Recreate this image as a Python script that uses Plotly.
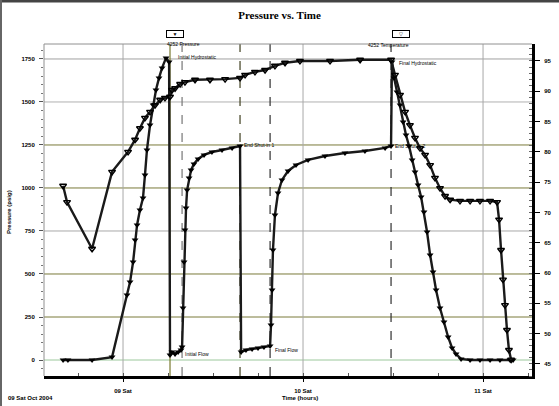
import plotly.graph_objects as go

# ---------------- data (time in hours, Saturday 9 Oct 2004) ----------------
p_time = [8.667, 8.694, 8.828, 8.939, 9.022, 9.039, 9.056, 9.067, 9.078, 9.094, 9.111,
          9.122, 9.133, 9.150, 9.167, 9.183, 9.200, 9.217, 9.239, 9.256,
          9.261, 9.272, 9.289, 9.306, 9.322,
          9.328, 9.333, 9.339, 9.344, 9.350, 9.356, 9.367, 9.378, 9.394, 9.417, 9.450,
          9.494, 9.550, 9.606, 9.650,
          9.656, 9.683, 9.717, 9.750, 9.783, 9.817,
          9.822, 9.828, 9.833, 9.844, 9.861, 9.883, 9.917, 9.961, 10.028, 10.122,
          10.233, 10.344, 10.456, 10.489,
          10.494, 10.506, 10.522, 10.539, 10.556, 10.572, 10.589, 10.606, 10.622,
          10.639, 10.656, 10.672, 10.689, 10.706, 10.722, 10.739, 10.761, 10.783,
          10.806, 10.828, 10.850, 10.878, 10.928, 10.983, 11.039, 11.094, 11.150, 11.167]
pressure = [0, 0, 0, 17, 378, 453, 570, 698, 785, 872, 942,
            1076, 1221, 1366, 1483, 1570, 1640, 1698, 1756, 1733,
            29, 47, 35, 47, 58,
            76, 302, 570, 756, 884, 988, 1058, 1105, 1140, 1169, 1192,
            1209, 1221, 1233, 1244,
            47, 58, 64, 70, 76, 81,
            203, 407, 640, 843, 971, 1047, 1099, 1134, 1163, 1186,
            1203, 1215, 1233, 1244,
            1733, 1640, 1558, 1483, 1384, 1308, 1244, 1163, 1093,
            1017, 948, 860, 744, 610, 512, 407, 302, 221,
            134, 70, 35, 6, 0, 0, 0, 0, 0, 0]

t_time = [8.667, 8.689, 8.828, 8.939, 9.028, 9.067, 9.094, 9.122, 9.150, 9.178, 9.206,
          9.233, 9.261, 9.272, 9.289, 9.317, 9.344, 9.400, 9.483, 9.567, 9.650,
          9.678, 9.733, 9.789, 9.844, 9.900, 9.983, 10.150, 10.317, 10.489,
          10.511, 10.539, 10.567, 10.594, 10.622, 10.650, 10.678, 10.706, 10.733,
          10.761, 10.789, 10.817, 10.872, 10.928, 10.983, 11.039, 11.078,
          11.089, 11.100, 11.111, 11.122, 11.133, 11.144, 11.156]
temperature = [74.4, 71.7, 64.0, 76.7, 80.0, 82.0, 83.9, 85.6, 86.6, 87.7, 88.6,
               88.9, 89.1, 90.2, 90.5, 91.2, 91.5, 91.9, 91.9, 92.0, 92.2,
               92.7, 93.2, 93.5, 94.2, 94.7, 95.0, 95.0, 95.2, 95.2,
               92.7, 89.4, 86.6, 84.4, 82.3, 80.6, 79.5, 77.8, 75.7,
               74.0, 72.7, 72.1, 71.9, 71.9, 71.9, 71.9, 71.7,
               68.8, 63.8, 58.9, 54.7, 50.6, 47.3, 45.7]

x_ticks = [9, 10, 11]
x_tick_labels = ["09 Sat", "10 Sat", "11 Sat"]
p_ticks = [0, 250, 500, 750, 1000, 1250, 1500, 1750]
t_ticks = [45, 50, 55, 60, 65, 70, 75, 80, 85, 90, 95]

events = [9.261, 9.328, 9.650, 9.817, 10.489]
event_styles = [("#7a7a30", "solid"), ("#777777", "dash"), ("#404020", "dash"),
                ("#303030", "dash"), ("#303030", "dash")]

grid_colors = {0: "#9cc89c", 250: "#7a7a3a", 500: "#7a7a3a", 750: "#a8a8a8",
               1000: "#7a7a3a", 1250: "#7a7a3a", 1500: "#b0b0b0", 1750: "#a0a0a0"}

labels = [(9.294, 1762, "Initial Hydrostatic"), (9.661, 1252, "End Shut-in 1"),
          (9.335, 35, "Initial Flow"), (9.835, 60, "Final Flow"),
          (10.52, 1727, "Final Hydrostatic"), (10.50, 1244, "End Shut-in 2")]

FONT = "Liberation Sans"

# plot area in pixels: x 44..532, y 44..376
L, R, T, B = 44, 532, 44, 376
def px(x):
    return (x - L) / (R - L)
def py(y):
    return (B - y) / (B - T)

fig = go.Figure()
fig.add_trace(go.Scatter(
    x=p_time, y=pressure, name="4252 Pressure", mode="lines+markers",
    line=dict(color="#1a1a1a", width=2.4),
    marker=dict(symbol="triangle-down", size=6, color="black"),
    yaxis="y"))
fig.add_trace(go.Scatter(
    x=t_time, y=temperature, name="4252 Temperature", mode="lines+markers",
    line=dict(color="#1a1a1a", width=2.4),
    marker=dict(symbol="triangle-down-open", size=6, color="black",
                line=dict(width=1.4)),
    yaxis="y2"))

shapes = []
for v, c in grid_colors.items():
    shapes.append(dict(type="line", xref="paper", yref="y", x0=0, x1=1, y0=v, y1=v,
                       line=dict(color=c, width=1), layer="below"))
for xv in x_ticks:
    shapes.append(dict(type="line", xref="x", yref="paper", x0=xv, x1=xv, y0=0, y1=1,
                       line=dict(color="#a8a8a8", width=1), layer="below"))
for xv, (c, d) in zip(events, event_styles):
    shapes.append(dict(type="line", xref="x", yref="paper", x0=xv, x1=xv, y0=0, y1=1,
                       line=dict(color=c, width=1.2, dash=d), layer="below"))
shapes.append(dict(type="line", xref="paper", yref="paper", x0=0, x1=1, y0=1, y1=1,
                   line=dict(color="#909090", width=1)))
shapes.append(dict(type="line", xref="paper", yref="paper", x0=0, x1=0, y0=0, y1=1,
                   line=dict(color="#909090", width=1)))
# picture frame (top and left edges)
shapes.append(dict(type="line", xref="paper", yref="paper", x0=px(0), x1=px(559),
                   y0=py(1), y1=py(1), line=dict(color="#444444", width=3)))
shapes.append(dict(type="line", xref="paper", yref="paper", x0=px(1), x1=px(1),
                   y0=py(0), y1=py(406), line=dict(color="#666666", width=2)))

annotations = []
for xv, yv, txt in labels:
    annotations.append(dict(x=xv, y=yv, xref="x", yref="y", text=txt, showarrow=False,
                            xanchor="left", yanchor="middle",
                            font=dict(family=FONT, size=5, color="black")))
annotations += [
    dict(x=px(166), y=py(30), xref="paper", yref="paper", text="▼", showarrow=False,
         font=dict(size=5, color="black"), bordercolor="black", borderwidth=1,
         borderpad=0, width=16, height=6),
    dict(x=px(165), y=py(39), xref="paper", yref="paper", text="4252 Pressure",
         showarrow=False, font=dict(family=FONT, size=5, color="black")),
    dict(x=px(410), y=py(30), xref="paper", yref="paper", text="▽", showarrow=False,
         font=dict(size=5, color="black"), bordercolor="black", borderwidth=1,
         borderpad=0, width=16, height=6),
    dict(x=px(411), y=py(40), xref="paper", yref="paper", text="4252 Temperature",
         showarrow=False, font=dict(family=FONT, size=5, color="black")),
    dict(x=px(6), y=py(398), xref="paper", yref="paper", xanchor="left",
         yanchor="middle", text="<b>09 Sat Oct 2004</b>", showarrow=False,
         font=dict(family=FONT, size=6, color="black")),
    dict(x=px(300), y=py(398), xref="paper", yref="paper", xanchor="center",
         yanchor="middle", text="<b>Time (hours)</b>", showarrow=False,
         font=dict(family=FONT, size=6, color="black")),
    dict(x=px(9), y=py(212), xref="paper", yref="paper", xanchor="center",
         yanchor="middle", text="<b>Pressure (psig)</b>", showarrow=False,
         textangle=-90, font=dict(family=FONT, size=6, color="black")),
]

fig.update_layout(
    width=559, height=406,
    margin=dict(l=L, r=559 - R, t=T, b=406 - B, autoexpand=False),
    paper_bgcolor="white", plot_bgcolor="white",
    showlegend=False,
    title=dict(text="<b>Pressure vs. Time</b>", x=0.5, xanchor="center",
               y=1 - 15 / 406, yanchor="middle",
               font=dict(family="Liberation Serif", size=11, color="black")),
    font=dict(family=FONT, size=7, color="black"),
    xaxis=dict(range=[8.561, 11.272], tickvals=x_ticks, ticktext=x_tick_labels,
               automargin=False,
               showgrid=False, zeroline=False, showline=True, linecolor="black",
               linewidth=3, ticks="outside", ticklen=3, tickcolor="black",
               ticklabelstandoff=4,
               minor=dict(ticks="inside", dtick=0.25, ticklen=3, tickcolor="#555555"),
               tickfont=dict(family=FONT, size=6, color="black", weight="bold")),
    yaxis=dict(range=[-93, 1837], tickvals=p_ticks, showgrid=False, zeroline=False,
               automargin=False,
               showline=False, ticks="outside", ticklen=4, tickcolor="#555555",
               minor=dict(ticks="outside", dtick=50, ticklen=2, tickcolor="#777777"),
               ticklabelstandoff=3,
               tickfont=dict(family=FONT, size=6, color="black", weight="bold")),
    yaxis2=dict(range=[43.0, 97.8], tickvals=t_ticks, overlaying="y", side="right",
                automargin=False,
                showgrid=False, zeroline=False, showline=True, linecolor="black",
                linewidth=3, ticks="outside", ticklen=5, tickcolor="black",
                ticklabelstandoff=3,
                minor=dict(ticks="inside", dtick=1, ticklen=3, tickcolor="#666666"),
                tickfont=dict(family=FONT, size=6, color="black", weight="bold")),
    shapes=shapes, annotations=annotations,
)

fig.write_html("out.html",
               config={"displayModeBar": False},
               post_script="document.body.style.margin='0';"
                           "document.body.style.overflow='hidden';")
